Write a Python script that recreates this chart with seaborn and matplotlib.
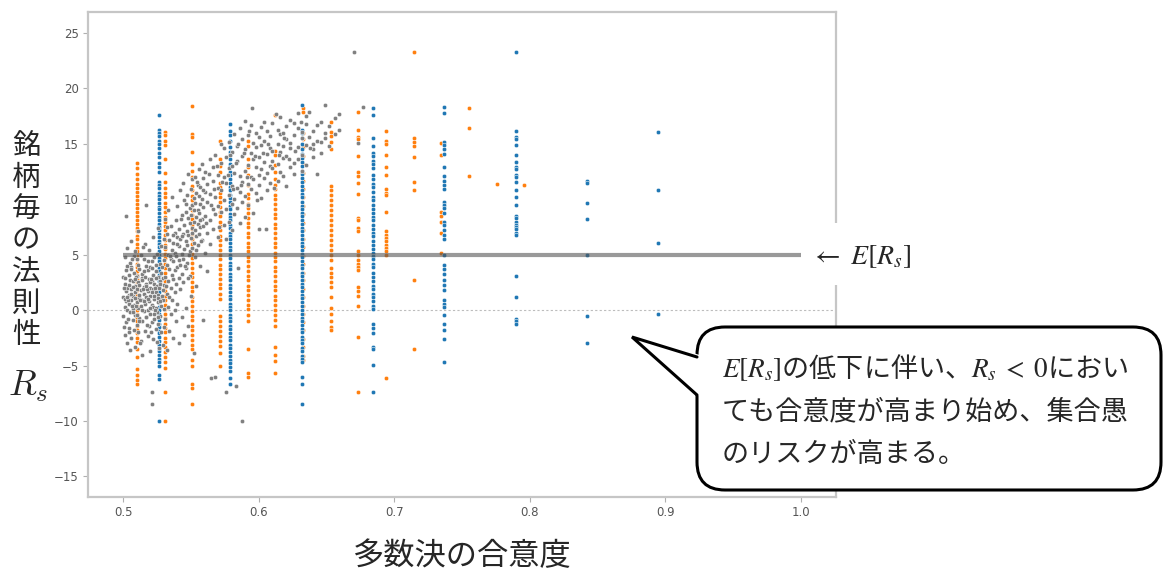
import matplotlib
matplotlib.use("Agg")
import matplotlib.pyplot as plt
import pandas as pd
import seaborn as sns
from matplotlib.patches import FancyBboxPatch, Polygon, Rectangle

# ---- data -------------------------------------------------------------
# agreement levels reached with 19 voters (blue) and 49 voters (orange)
blue_levels = [0.5263, 0.5789, 0.6316, 0.6842, 0.7368, 0.7895, 0.8421, 0.8947]
blue_values = [
    [17.6, 16.3, 16.0, 15.7, 15.3, 15.0, 14.6, 14.2, 13.8, 13.3, 12.9, 12.5, 11.6, 11.3, 11.0,
     10.6, 10.3, 10.0, 9.7, 9.3, 9.1, 8.8, 8.4, 8.1, 7.8, 7.5, 7.2, 6.9, 6.6, 6.2, 6.0, 5.7,
     5.3, 5.0, 4.7, 4.4, 4.1, 3.8, 3.5, 3.2, 2.8, 2.6, 2.2, 1.9, 1.6, 1.3, 0.9, 0.7, 0.3, 0.0,
     -0.3, -0.6, -0.9, -1.2, -1.5, -1.9, -2.1, -2.4, -2.8, -3.1, -3.4, -3.7, -4.0, -4.4, -4.7,
     -5.0, -5.8, -6.2, -10.0],
    [16.8, 16.2, 15.8, 15.3, 14.7, 14.3, 14.0, 13.6, 13.2, 12.9, 12.5, 12.2, 11.8, 11.5, 11.1,
     10.8, 10.4, 10.1, 9.8, 9.4, 9.1, 8.7, 8.4, 8.1, 7.7, 7.4, 7.0, 6.7, 6.4, 6.1, 5.7, 5.4,
     5.0, 4.7, 4.3, 4.0, 3.7, 3.3, 3.0, 2.7, 2.3, 2.0, 1.6, 1.3, 1.0, 0.6, 0.3, 0.0, -0.4,
     -0.7, -1.0, -1.4, -1.7, -2.1, -2.4, -2.7, -3.1, -3.4, -3.8, -4.1, -4.5, -4.8, -5.1, -5.5,
     -6.1, -6.7],
    [18.5, 16.3, 16.0, 15.5, 15.0, 14.5, 14.1, 13.7, 13.4, 13.0, 12.6, 12.3, 11.9, 11.6, 11.2,
     10.8, 10.5, 10.2, 9.8, 9.4, 9.1, 8.8, 8.5, 8.1, 7.8, 7.4, 7.1, 6.8, 6.4, 6.1, 5.8, 5.4,
     5.1, 4.8, 4.4, 4.1, 3.8, 3.4, 3.1, 2.7, 2.4, 2.1, 1.7, 1.4, 1.1, 0.7, 0.4, 0.0, -0.3,
     -0.7, -1.0, -1.3, -1.7, -2.0, -2.4, -2.7, -3.0, -3.4, -3.7, -4.1, -4.4, -4.7, -6.0, -6.7,
     -8.5],
    [18.2, 17.6, 15.5, 14.8, 14.2, 13.9, 13.5, 13.2, 12.8, 12.2, 11.8, 11.4, 11.1, 10.7, 10.2,
     9.9, 9.5, 9.1, 8.8, 8.4, 8.1, 7.7, 7.3, 7.0, 6.7, 6.2, 5.9, 5.5, 5.2, 4.9, 4.6, 4.2, 3.9,
     3.4, 3.0, 2.6, 2.2, 1.9, 1.5, 1.2, 0.8, 0.4, 0.1, -1.2, -1.6, -2.1, -3.3, -3.5, -4.9, -7.4],
    [18.3, 17.8, 15.2, 14.9, 14.5, 14.1, 12.9, 12.1, 11.7, 11.3, 10.9, 9.8, 9.5, 9.2, 8.8, 8.0,
     7.7, 7.2, 6.8, 6.4, 5.0, 4.1, 3.7, 3.3, 2.7, 2.3, 1.8, 0.9, 0.6, 0.3, -0.45, -1.2, -1.8,
     -2.6, -4.7],
    [23.3, 16.2, 15.6, 15.4, 14.9, 14.0, 13.4, 12.9, 12.7, 12.2, 12.0, 11.6, 10.8, 10.2, 9.5,
     8.5, 8.3, 8.0, 7.7, 7.5, 7.3, 7.0, 6.8, 3.1, 1.2, -0.75, -1.0, -1.2],
    [11.7, 11.5, 9.7, 8.2, 5.0, -0.55, -3.0],
    [16.1, 10.8, 6.1, -0.3],
]

orange_levels = [0.5102, 0.5306, 0.5510, 0.5714, 0.5918, 0.6122, 0.6327, 0.6531,
                 0.6735, 0.6939, 0.7143, 0.7347, 0.7551, 0.7755, 0.7959]
orange_values = [
    [13.3, 12.8, 12.3, 11.8, 11.4, 11.0, 10.7, 10.3, 9.9, 9.6, 9.2, 8.9, 8.5, 8.1, 7.8, 7.4,
     7.1, 6.7, 6.4, 6.0, 5.6, 5.3, 4.9, 4.6, 4.2, 3.9, 3.5, 3.2, 2.8, 2.5, 2.1, 1.8, 1.4, 1.1,
     0.7, 0.4, 0.0, -0.3, -0.7, -1.0, -1.4, -1.8, -2.1, -2.5, -2.9, -3.5, -4.2, -5.3, -5.8,
     -6.3, -6.7],
    [16.1, 15.8, 15.3, 14.9, 13.6, 12.4, 11.6, 11.0, 10.6, 10.2, 9.7, 9.3, 8.9, 8.4, 8.0, 7.6,
     7.2, 6.8, 6.3, 5.9, 5.5, 5.1, 4.7, 4.2, 3.8, 3.4, 3.0, 2.6, 2.1, 1.7, 1.3, 0.9, 0.5, 0.1,
     -0.3, -0.7, -1.2, -1.6, -2.0, -2.5, -2.9, -3.3, -3.8, -4.2, -4.7, -5.2, -7.4, -10.0],
    [18.4, 15.9, 15.6, 14.3, 13.2, 12.6, 12.0, 11.2, 10.8, 10.3, 9.9, 9.5, 9.0, 8.6, 8.2, 7.7,
     7.3, 6.9, 6.4, 6.0, 5.6, 5.1, 4.7, 4.3, 3.8, 3.4, 3.0, 2.5, 2.1, 1.7, 1.2, 0.8, 0.4, -0.1,
     -0.5, -0.9, -1.4, -1.8, -2.2, -2.7, -3.1, -3.5, -4.5, -5.0, -6.7, -7.0, -8.5],
    [15.3, 13.6, 13.0, 12.5, 11.5, 11.1, 10.6, 10.2, 9.8, 9.3, 8.9, 8.5, 8.0, 7.6, 7.2, 6.7,
     6.3, 5.9, 5.4, 5.0, 4.6, 4.1, 3.7, 3.3, 2.8, 2.4, 2.0, 1.5, 1.0, -0.5, -1.0, -1.4, -1.9,
     -2.3, -2.8, -3.2, -3.9, -5.0],
    [15.3, 14.8, 13.6, 12.9, 12.2, 11.3, 10.5, 10.1, 9.6, 9.2, 8.8, 8.3, 7.9, 7.5, 7.0, 6.6,
     6.1, 5.7, 5.3, 4.8, 4.4, 4.0, 3.5, 3.1, 2.7, 2.2, 1.8, 1.4, 0.9, 0.5, 0.1, -0.4, -1.0,
     -3.5, -5.7, -6.0],
    [17.6, 14.4, 14.0, 13.1, 12.5, 11.8, 11.3, 10.9, 10.4, 10.0, 9.6, 9.1, 8.7, 8.3, 7.8, 7.4,
     7.0, 6.5, 6.1, 5.7, 5.2, 4.8, 4.4, 3.9, 3.5, 3.1, 2.6, 2.2, 1.8, 1.3, 0.9, 0.5, 0.0, -0.4,
     -0.9, -1.4, -3.3, -4.0, -4.6, -5.7],
    [18.2, 17.9, 16.0, 15.4, 14.7, 13.9, 13.2, 12.4, 11.7, 10.9, 10.2, 9.4, 8.7, 7.9, 7.2, 6.4,
     5.7, 4.9, 4.2, 3.4, 2.7, 1.9, 1.2, 0.4, -0.3, -1.1, -1.8, -2.6, -3.3, -4.1, -4.5],
    [17.0, 16.1, 15.7, 15.2, 14.5, 11.2, 10.8, 10.4, 9.9, 9.5, 9.0, 8.6, 8.1, 7.7, 7.2, 6.8,
     6.3, 5.9, 5.4, 5.0, 4.5, 3.8, 3.4, 3.0, 2.5, 2.1, 1.2, 0.2, -0.3, -1.0, -1.5, -1.8],
    [17.9, 16.3, 15.6, 15.4, 13.9, 12.5, 12.1, 11.5, 10.5, 8.3, 8.1, 7.4, 7.1, 5.3, 5.0, 4.5,
     4.2, 3.9, 3.6, 2.1, 1.7, 1.3, 0.4, -2.4, -7.4],
    [16.2, 15.3, 15.0, 14.0, 12.9, 12.2, 10.9, 10.6, 10.4, 8.9, 7.1, 6.8, 6.5, 6.2, 5.9, 5.6,
     5.3, 5.0, -6.1],
    [23.3, 15.5, 15.2, 14.8, 13.8, 11.6, 10.8, 2.7, -3.5],
    [15.1, 14.0, 8.9, 8.5, 8.0, 7.0, 5.2],
    [18.2, 16.4, 12.1],
    [11.4],
    [11.3],
]

# individual stocks with a continuous agreement value
gray_points = [
    # around simple majority
    (0.500, 1.2), (0.500, -0.5), (0.500, 3.0), (0.501, 0.3), (0.501, 2.4), (0.501, -2.2),
    (0.501, 4.8), (0.502, 1.7), (0.502, -1.1), (0.502, 3.6), (0.502, 0.8), (0.502, 8.5),
    (0.503, -3.0), (0.503, 2.0), (0.503, 0.0), (0.503, 5.6), (0.504, 1.4), (0.504, -1.6),
    (0.504, 3.2), (0.504, 0.6), (0.505, 2.7), (0.505, -0.2), (0.505, 4.3), (0.505, -3.6),
    (0.506, 0.9), (0.506, 1.9), (0.506, -2.5), (0.506, 3.9), (0.506, 6.2), (0.507, 0.1),
    (0.507, 2.6), (0.507, -0.9), (0.507, 1.3), (0.508, 3.4), (0.508, -1.8), (0.508, 0.5),
    (0.508, 4.9), (0.509, 1.6), (0.509, -0.4), (0.509, 2.2), (0.509, -3.3), (0.509, 5.3),
    (0.510, 0.7), (0.510, 3.1), (0.510, -1.3), (0.510, 1.9), (0.511, 2.5), (0.511, -2.0),
    (0.511, 0.2), (0.511, 4.1), (0.511, 7.1), (0.512, 1.1), (0.512, -0.7), (0.512, 3.7),
    (0.512, 2.3), (0.513, 0.4), (0.513, -2.8), (0.513, 1.8), (0.513, 5.0), (0.514, 2.9),
    (0.514, -1.0), (0.514, 0.9), (0.514, 3.3), (0.514, -4.0), (0.515, 1.5), (0.515, -0.1),
    (0.515, 4.6), (0.515, 2.1), (0.516, 0.6), (0.516, -1.9), (0.516, 3.0), (0.516, 6.0),
    (0.517, 2.4), (0.517, -0.6), (0.517, 1.2), (0.517, 9.5), (0.517, 4.0), (0.518, 0.0),
    (0.518, 3.6), (0.518, -2.3), (0.518, 1.7), (0.519, 2.8), (0.519, -1.4), (0.519, 0.8),
    (0.519, 5.4), (0.520, 1.3), (0.520, -0.3), (0.520, 3.9), (0.520, -3.7), (0.520, 2.0),
    (0.521, 0.5), (0.521, 2.6), (0.521, -1.1), (0.521, 4.4), (0.521, -7.4), (0.521, -8.5),
    (0.522, 1.9), (0.522, -2.6), (0.522, 0.3), (0.522, 3.2), (0.522, 6.6), (0.523, 1.0),
    (0.523, -0.8), (0.523, 2.4), (0.523, 4.8), (0.524, 0.2), (0.524, 3.5), (0.524, -1.7),
    (0.524, 1.6), (0.525, 2.2), (0.525, -0.2), (0.525, 5.1), (0.525, -2.9), (0.526, 1.4),
    (0.526, 3.0), (0.526, -1.2), (0.526, 0.7), (0.526, 7.4), (0.527, 2.6), (0.527, -0.5),
    (0.527, 4.2), (0.527, 1.1), (0.528, 0.4), (0.528, 3.4), (0.528, -2.0), (0.528, 5.8),
    (0.529, 1.8), (0.529, -3.1), (0.529, 2.9), (0.529, 0.9), (0.530, 4.5), (0.530, 0.1),
    (0.530, 2.3), (0.530, -1.5), (0.530, 6.4),
    (0.5015, 1.0), (0.5015, 2.9), (0.5035, 0.9), (0.5035, -0.8), (0.5055, 1.5), (0.5055, 3.7),
    (0.5075, 2.1), (0.5075, -0.2), (0.5095, 0.4), (0.5095, 3.0), (0.5115, 1.4), (0.5115, -1.0),
    (0.5135, 2.7), (0.5135, 0.0), (0.5155, 0.8), (0.5155, 3.5), (0.5175, 1.9), (0.5175, -1.3),
    (0.5195, 0.2), (0.5195, 2.5), (0.5215, 1.6), (0.5215, 3.8), (0.5235, 0.0), (0.5235, 2.0),
    (0.5255, 1.1), (0.5255, -0.6), (0.5275, 2.4), (0.5275, 0.8),
    (0.5005, 2.0), (0.5005, -1.5), (0.5025, 1.2), (0.5025, 4.0), (0.5045, 2.3), (0.5045, -2.0),
    (0.5065, 0.4), (0.5065, 4.6), (0.5085, 1.1), (0.5085, 2.8), (0.5105, -0.4), (0.5105, 4.6),
    (0.5125, 0.9), (0.5125, -3.0), (0.5145, 1.9), (0.5145, 5.7), (0.5165, 2.2), (0.5165, -0.6),
    (0.5185, 1.0), (0.5185, 4.4), (0.5205, 2.8), (0.5205, -2.0), (0.5225, 1.3), (0.5225, -0.3),
    (0.5245, 2.9), (0.5245, 4.1), (0.5265, 2.0), (0.5265, -3.4), (0.5285, 1.3), (0.5285, 3.9),
    # rising part of the cloud
    (0.531, 3.0), (0.531, 5.7), (0.531, -0.8), (0.531, 8.2), (0.532, 1.5), (0.532, 4.1),
    (0.532, 6.9), (0.532, -3.6), (0.533, 2.6), (0.533, 0.3), (0.533, 5.0), (0.533, 9.0),
    (0.534, 3.7), (0.534, -1.9), (0.534, 6.3), (0.534, 1.2), (0.535, 4.6), (0.535, 2.0),
    (0.535, 7.6), (0.535, -0.3), (0.536, 5.4), (0.536, 0.9), (0.536, 3.2), (0.536, 10.2),
    (0.537, 2.8), (0.537, 6.1), (0.537, -2.5), (0.537, 4.4), (0.538, 7.0), (0.538, 3.6),
    (0.538, 1.6), (0.538, 5.2), (0.539, 4.9), (0.539, 8.1), (0.539, -1.0), (0.539, 2.4),
    (0.540, 6.6), (0.540, 3.9), (0.540, 9.4), (0.540, 0.6), (0.541, 5.8), (0.541, 2.9),
    (0.541, 7.3), (0.541, -3.0), (0.542, 4.1), (0.542, 10.8), (0.542, 6.4), (0.542, 1.9),
    (0.543, 8.6), (0.543, 5.1), (0.543, 3.3), (0.543, -0.6), (0.544, 6.9), (0.544, 4.6),
    (0.544, 11.5), (0.544, 2.5), (0.545, 7.7), (0.545, 5.5), (0.545, 9.9), (0.545, -2.2),
    (0.546, 6.2), (0.546, 3.8), (0.546, 8.9), (0.546, 0.2), (0.547, 10.4), (0.547, 5.9),
    (0.547, 7.1), (0.547, 4.3), (0.548, 8.3), (0.548, 6.8), (0.548, 12.3), (0.548, -1.4),
    (0.549, 9.2), (0.549, 5.3), (0.549, 7.9), (0.549, 3.1), (0.550, 6.5), (0.550, 10.9),
    (0.550, 8.6), (0.550, 1.3), (0.551, 11.8), (0.551, 7.4), (0.551, 5.6), (0.551, 9.5),
    (0.552, 8.0), (0.552, 6.1), (0.552, 10.1), (0.552, -3.9), (0.553, 9.7), (0.553, 7.2),
    (0.553, 4.8), (0.553, 12.0), (0.554, 6.7), (0.554, 10.6), (0.554, 8.4), (0.554, 2.2),
    (0.555, 11.3), (0.555, 9.0), (0.555, 5.9), (0.555, 7.8), (0.556, 8.8), (0.556, 12.7),
    (0.556, 6.9), (0.556, 10.3), (0.557, 7.5), (0.557, 9.6), (0.557, 4.0), (0.557, 11.1),
    (0.558, 10.0), (0.558, 6.3), (0.558, 8.2), (0.558, 13.2), (0.559, 9.3), (0.559, 11.9),
    (0.559, 7.6), (0.559, -0.9), (0.560, 8.5), (0.560, 10.7), (0.560, 5.2), (0.560, 12.5),
    (0.562, 9.8), (0.562, 7.0), (0.562, 11.4), (0.562, 3.5), (0.564, 10.5), (0.564, 8.1),
    (0.564, 13.6), (0.564, 6.0), (0.565, -6.1), (0.566, 9.1), (0.566, 11.7), (0.566, 7.3),
    (0.566, 12.9), (0.568, 10.2), (0.568, 8.7), (0.568, 14.0), (0.568, -6.0), (0.570, 11.0),
    (0.570, 9.4), (0.570, 12.2), (0.570, 6.6), (0.572, 10.8), (0.572, 13.3), (0.572, 8.9),
    (0.572, 15.0), (0.574, 12.0), (0.574, 9.9), (0.574, 14.6), (0.574, 7.7),
    (0.5315, 2.2), (0.5325, 7.5), (0.5345, 4.9), (0.5365, 6.8), (0.5385, 0.0), (0.5395, 6.0),
    (0.5415, 4.5), (0.5425, 8.2), (0.5435, 6.7), (0.5455, 4.0), (0.5465, 9.6), (0.5475, 2.9),
    (0.5485, 5.0), (0.5505, 7.0), (0.5525, 9.0), (0.5535, 5.4), (0.5545, 11.6), (0.5565, 8.1),
    (0.5575, 6.2), (0.5585, 10.8), (0.561, 7.9), (0.563, 12.3), (0.565, 9.5), (0.567, 10.9),
    (0.569, 13.0), (0.571, 7.5), (0.573, 11.6),
    # upper part of the cloud
    (0.576, 11.5), (0.576, 9.1), (0.576, 13.8), (0.576, 6.4), (0.576, -7.4), (0.578, 12.8),
    (0.578, 10.4), (0.578, 15.2), (0.578, 8.0), (0.580, 11.2), (0.580, 14.3), (0.580, 9.6),
    (0.580, 13.0), (0.580, 7.2), (0.582, 12.4), (0.582, 10.0), (0.582, 15.9), (0.582, 8.7),
    (0.583, -6.8), (0.584, 13.5), (0.584, 11.0), (0.584, 9.2), (0.584, 14.8), (0.585, 3.8),
    (0.586, 12.1), (0.586, 16.4), (0.586, 10.7), (0.586, 7.9), (0.5875, -10.0), (0.588, 13.9),
    (0.588, 11.6), (0.588, 9.8), (0.588, 15.4), (0.590, 12.6), (0.590, 14.5), (0.590, 10.3),
    (0.590, 17.1), (0.590, 8.4), (0.592, 13.1), (0.592, 11.4), (0.592, 15.8), (0.592, 9.5),
    (0.594, 14.2), (0.594, 12.0), (0.594, 10.9), (0.594, 16.7), (0.595, 18.2), (0.596, 13.6),
    (0.596, 15.1), (0.596, 11.8), (0.596, 8.8), (0.598, 12.9), (0.598, 14.7), (0.598, 10.6),
    (0.598, 16.0), (0.600, 13.8), (0.600, 11.3), (0.600, 15.6), (0.600, 12.2), (0.600, 7.3),
    (0.602, 14.9), (0.602, 12.7), (0.602, 16.5), (0.602, 10.1), (0.604, 13.4), (0.604, 15.3),
    (0.604, 11.9), (0.604, 17.0), (0.605, 7.3), (0.606, 14.1), (0.606, 12.4), (0.606, 16.2),
    (0.606, 10.8), (0.608, 13.0), (0.608, 15.7), (0.608, 11.5), (0.608, 14.6), (0.610, 14.4),
    (0.610, 16.9), (0.610, 12.8), (0.610, 13.5), (0.6125, 17.7), (0.614, 15.0), (0.614, 13.2),
    (0.614, 16.3), (0.614, 11.7), (0.616, 14.3), (0.616, 12.5), (0.616, 15.9), (0.616, 17.4),
    (0.618, 13.7), (0.618, 16.0), (0.618, 12.1), (0.618, 14.8), (0.620, 15.4), (0.620, 13.9),
    (0.620, 11.2), (0.620, 16.6), (0.623, 14.6), (0.623, 12.9), (0.623, 17.2), (0.623, 15.1),
    (0.626, 13.3), (0.626, 15.8), (0.626, 16.9), (0.626, 12.3), (0.629, 14.7), (0.629, 16.4),
    (0.629, 13.6), (0.629, 17.8), (0.632, 15.5), (0.632, 14.0), (0.632, 12.6), (0.632, 16.1),
    (0.635, 16.8), (0.635, 14.9), (0.635, 13.1), (0.635, 17.5), (0.637, 17.9), (0.637, 15.6),
    (0.640, 14.5), (0.640, 16.2), (0.640, 13.8), (0.640, 15.0), (0.643, 12.3), (0.643, 16.7),
    (0.643, 15.3), (0.646, 15.2), (0.646, 17.0), (0.646, 14.2), (0.649, 18.5), (0.649, 16.0),
    (0.649, 15.5), (0.652, 14.8), (0.652, 16.6), (0.656, 15.9), (0.656, 17.3), (0.659, 17.7),
    (0.659, 16.3), (0.670, 23.3), (0.673, 15.1), (0.677, 18.3),
    (0.577, 12.2), (0.579, 14.0), (0.581, 10.9), (0.583, 13.3), (0.585, 15.0), (0.587, 11.3),
    (0.589, 14.2), (0.591, 12.0), (0.593, 16.2), (0.597, 13.9), (0.599, 9.9), (0.603, 14.2),
    (0.607, 15.0), (0.611, 11.0), (0.615, 14.0), (0.619, 15.5), (0.622, 13.6), (0.627, 14.4),
    (0.631, 17.0), (0.638, 14.6),
]

E_RS = 5.0          # expected value of the per-stock regularity
E_RS_SPAN = (0.5, 1.0)

x_ticks = [0.5, 0.6, 0.7, 0.8, 0.9, 1.0]
y_ticks = [-15, -10, -5, 0, 5, 10, 15, 20, 25]

ylabel_text = "銘柄毎の法則性"
xlabel_text = "多数決の合意度"
note_lines = [r"$E[R_s]$の低下に伴い、$R_s\;<\;0$におい",
              "ても合意度が高まり始め、集合愚",
              "のリスクが高まる。"]

# ---- frames -----------------------------------------------------------
def stripes(levels, values):
    rows = [(lv, v) for lv, col in zip(levels, values) for v in col]
    return pd.DataFrame(rows, columns=["agree", "rs"])

blue_df = stripes(blue_levels, blue_values)
orange_df = stripes(orange_levels, orange_values)
gray_df = pd.DataFrame(gray_points, columns=["agree", "rs"])

# ---- style ------------------------------------------------------------
sns.set_style("white")
plt.rcParams["font.family"] = ["DejaVu Sans"]
JP = ["Noto Sans CJK JP", "DejaVu Sans"]

W, H = 1164, 571
fig = plt.figure(figsize=(W / 100, H / 100), dpi=100)
ax = fig.add_axes([88 / W, 1 - 497 / H, (836 - 88) / W, (497 - 12) / H])

dot = dict(s=10, edgecolor="white", linewidth=0.35, legend=False, ax=ax)
sns.scatterplot(data=orange_df, x="agree", y="rs", color="#ff7f0e", zorder=2, **dot)
sns.scatterplot(data=blue_df, x="agree", y="rs", color="#1f77b4", zorder=2.1, **dot)
sns.scatterplot(data=gray_df, x="agree", y="rs", color="#808080", zorder=3, **dot)

ax.hlines(E_RS, *E_RS_SPAN, color="#555555", alpha=0.6, lw=3, zorder=4)
ax.axhline(0, color="#bdbdbd", lw=0.8, ls=(0, (2, 2)), zorder=1)

ax.set_xlim(0.474, 1.026)
ax.set_ylim(-16.85, 26.9)
ax.set_xticks(x_ticks)
ax.set_yticks(y_ticks)
ax.set_xticklabels([f"{t:.1f}" for t in x_ticks])
ax.set_xlabel("")
ax.set_ylabel("")
for sp in ax.spines.values():
    sp.set_color("#c6c6c6")
    sp.set_linewidth(1.6)
ax.tick_params(bottom=True, left=True, length=3.5, width=0.8, color="#b0b0b0",
               labelcolor="#555555", labelsize=8.5, pad=3)

# ---- annotations in pixel coordinates --------------------------------
ov = fig.add_axes([0, 0, 1, 1], zorder=10)
ov.set_xlim(0, W)
ov.set_ylim(H, 0)
ov.axis("off")

# vertical y-axis title
for i, ch in enumerate(ylabel_text):
    ov.text(26, 146 + i * 31.5, ch, family=JP, fontsize=20.5, ha="center", va="center")
ov.text(28, 386, r"$R_s$", math_fontfamily="cm", fontsize=26, ha="center", va="center")

# x-axis title
ov.text(462, 556, xlabel_text, family=JP, fontsize=22.5, ha="center", va="center")

# label for the expected-value line
ov.add_patch(Rectangle((806, 223), 125, 62, fc="white", ec="none"))
ov.text(810, 256, r"$\leftarrow\ E[R_s]$", math_fontfamily="stix", fontsize=20,
        ha="left", va="center")

# speech bubble
ov.add_patch(FancyBboxPatch((697, 327), 464, 163,
                            boxstyle="round,pad=0,rounding_size=28",
                            fc="white", ec="black", lw=2.2))
tip = (632, 337)
ov.add_patch(Polygon([tip, (700, 355), (700, 397)], closed=True, fc="white", ec="none"))
ov.plot([697, tip[0], 697], [357, tip[1], 395], color="black", lw=2.2,
        solid_joinstyle="miter")

for i, line in enumerate(note_lines):
    ov.text(722, 368 + i * 43.5, line, family=JP, math_fontfamily="stix",
            fontsize=19.5, ha="left", va="center")

fig.savefig("out.png", dpi=100, facecolor="white")
